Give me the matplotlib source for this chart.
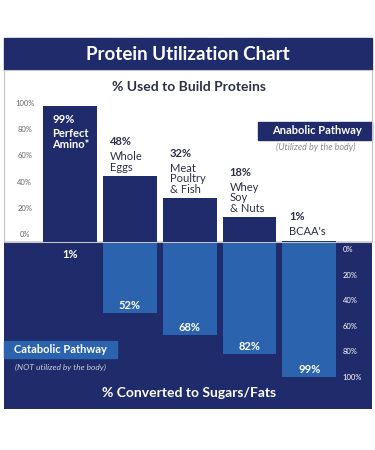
import matplotlib
matplotlib.use("Agg")  # no display in the sandbox
import matplotlib.pyplot as plt
from matplotlib.patches import Rectangle

# data
foods = [["Perfect", "Amino*"], ["Whole", "Eggs"], ["Meat", "Poultry", "& Fish"],
         ["Whey", "Soy", "& Nuts"], ["BCAA's"]]
anabolic = [99, 48, 32, 18, 1]      # % used to build proteins
catabolic = [1, 52, 68, 82, 99]     # % converted to sugars/fats
upper_ticks = [0, 20, 40, 60, 80, 100]
lower_ticks = [0, 20, 40, 60, 80, 100]

NAVY = "#1f2b6a"
BLUE = "#2b63ae"
INK = "#2d3047"

plt.rcParams["font.family"] = ["Lato", "DejaVu Sans"]

W, H = 375, 450
fig = plt.figure(figsize=(W / 100, H / 100), dpi=100)


def fx(px):
    return px / W


def fy(py):
    return 1 - py / H


# header band
fig.add_artist(Rectangle((fx(4), fy(70)), fx(368), 32 / H, color=NAVY,
                         transform=fig.transFigure, zorder=0))
fig.text(fx(188), fy(54), "Protein Utilization Chart", color="white",
         fontsize=13.5, fontweight="bold", ha="center", va="center")

# main panel: positive = anabolic, negative = catabolic
rect = [fx(4), fy(409), fx(368), (409 - 70) / H]
ax = fig.add_axes(rect)
ax.set_xlim(-1.105, 5.05)
ax.set_ylim(-122, 125.5)
ax.axhspan(-200, 0, color=NAVY, zorder=0)
xs = list(range(len(foods)))
ax.bar(xs, anabolic, width=0.9, color=NAVY, zorder=2)
ax.bar(xs, [-c for c in catabolic], width=0.9, color=BLUE, zorder=2)
ax.set_xticks([])
ax.set_yticks([])
for s in ax.spines.values():
    s.set_visible(False)

# light border round the white area
fig.add_artist(Rectangle((fx(4), fy(242)), fx(368), (242 - 70) / H,
                         fill=False, edgecolor="#c4c4c4", lw=0.8,
                         transform=fig.transFigure, zorder=5))

# left tick labels (upper scale)
ax_l = ax.twinx()
ax_l.yaxis.tick_left()
ax_l.set_ylim(-133.6, 125.2)
ax_l.set_yticks(upper_ticks, [f"{t}%" for t in upper_ticks])
ax_l.tick_params(axis="y", length=0, pad=-15, labelsize=5.5, labelcolor="#666666")
for lab in ax_l.get_yticklabels():
    lab.set_ha("center")

# right tick labels (lower scale)
ax_r = ax.twinx()
ax_r.set_ylim(-125, 139.8)
ax_r.set_yticks([-t for t in lower_ticks], [f"{t}%" for t in lower_ticks])
ax_r.tick_params(axis="y", length=0, pad=-21, labelsize=5.5, labelcolor="white")
for a in (ax_l, ax_r):
    a.set_xticks([])
    for s in a.spines.values():
        s.set_visible(False)

# labels on the upper bars
for i, (name, val) in enumerate(zip(foods, anabolic)):
    left = i - 0.45
    if i == 0:
        lines = [f"{val}%"] + name
        for k, (txt, dy) in enumerate(zip(lines, [-13, -27, -38])):
            ax.annotate(txt, xy=(left, val), xytext=(9, dy), textcoords="offset pixels",
                        color="white", fontsize=8, fontweight="bold",
                        ha="left", va="center", zorder=4)
        continue
    top = 0
    for k, txt in enumerate(reversed(name)):
        top = 9 + k * 10.5
        ax.annotate(txt, xy=(left, val), xytext=(7, top), textcoords="offset pixels",
                    color=INK, fontsize=8, ha="left", va="center", zorder=4)
    ax.annotate(f"{val}%", xy=(left, val), xytext=(7, top + 15),
                textcoords="offset pixels", color=INK, fontsize=8,
                fontweight="bold", ha="left", va="center", zorder=4)

# labels on the lower bars
for i, c in enumerate(catabolic):
    ax.annotate(f"{c}%", xy=(i, -c), xytext=(0, 8 if c >= 10 else -11),
                textcoords="offset pixels", color="white", fontsize=8,
                fontweight="bold", ha="center", va="center", zorder=4)

# section titles
fig.text(fx(189), fy(87), "% Used to Build Proteins", color=INK,
         fontsize=10, fontweight="bold", ha="center", va="center")
fig.text(fx(189.5), fy(393), "% Converted to Sugars/Fats", color="white",
         fontsize=10, fontweight="bold", ha="center", va="center")

# pathway tags
fig.add_artist(Rectangle((fx(258), fy(140)), fx(114), 18 / H, color=NAVY,
                         transform=fig.transFigure, zorder=3))
fig.text(fx(317), fy(131), "Anabolic Pathway", color="white", fontsize=8,
         fontweight="bold", ha="center", va="center", zorder=4)
fig.text(fx(316), fy(147), "(Utilized by the body)", color="#8a8a8a",
         fontsize=6.5, style="italic", ha="center", va="center")

fig.add_artist(Rectangle((fx(4), fy(358)), fx(113), 17 / H, color=BLUE,
                         transform=fig.transFigure, zorder=3))
fig.text(fx(60), fy(349.5), "Catabolic Pathway", color="white", fontsize=8,
         fontweight="bold", ha="center", va="center", zorder=4)
fig.text(fx(60), fy(367), "(NOT utilized by the body)", color="#c9cde0",
         fontsize=6, style="italic", ha="center", va="center")

fig.savefig("out.png", dpi=100)
